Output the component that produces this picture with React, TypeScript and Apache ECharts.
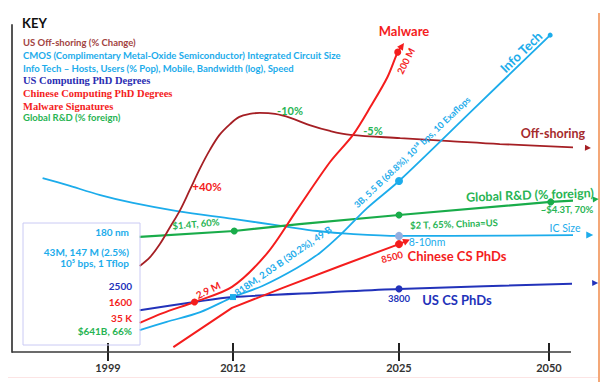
import React, { useEffect, useRef } from "react";
import * as echarts from "echarts";

// ---- axis (schematic, non-linear time axis) ----
const YEAR_TICKS = [1999, 2012, 2025, 2050];
const TICK_POS = [17.17, 39.53, 69.23, 96.06]; // layout position of each year tick (0-100 along axis)

// ---- series data: [year, relative level 0-100] ----
const offshoringYears = [2002.3, 2003.4, 2004.4, 2005.4, 2006.5, 2007.5, 2008.6, 2009.6, 2010.6, 2011.7, 2012.5, 2013.3, 2014.1, 2015.3, 2016.5, 2018.0, 2019.6, 2021.2, 2025.2, 2033.5, 2041.8, 2056.5];
const offshoringValues = [26.3, 29.1, 33.0, 37.9, 43.4, 49.5, 56.3, 61.8, 66.4, 69.7, 71.9, 72.8, 73.1, 72.8, 71.6, 69.4, 67.6, 66.4, 65.4, 64.5, 63.6, 62.4];

const icYears = [1992.2, 1994.7, 1998.2, 2001.6, 2006.2, 2012.0, 2015.9, 2018.6, 2021.2, 2025.0, 2033.5, 2056.8];
const icValues = [53.2, 51.1, 48.0, 45.6, 43.1, 40.7, 38.5, 37.0, 36.1, 35.5, 35.5, 35.8];

const infoYears = [2002.3, 2005.1, 2008.6, 2012.0, 2014.3, 2017.0, 2018.8, 2020.4, 2022.5, 2025.0, 2037.6, 2050.2];
const infoValues = [6.7, 9.2, 12.2, 16.8, 20.2, 25.7, 30.3, 35.8, 44.0, 52.3, 74.6, 96.9];

const usYears = [2002.3, 2008.0, 2012.0, 2019.6, 2025.0, 2057.7];
const usValues = [12.8, 15.3, 16.8, 18.3, 19.3, 21.1];

const cnYears = [2005.8, 2011.9, 2015.9, 2020.4, 2025.0, 2026.3];
const cnValues = [1.5, 13.5, 19.6, 26.3, 33.0, 34.0];

const malwareYears = [2002.3, 2004.7, 2008.0, 2011.9, 2014.7, 2017.0, 2019.6, 2021.4, 2022.8, 2024.1, 2024.9, 2025.5];
const malwareValues = [8.9, 11.9, 15.3, 19.9, 30.3, 43.4, 58.1, 66.4, 75.2, 84.1, 91.7, 93.6];

const rdYears = [2002.3, 2012.1, 2017.2, 2025.0, 2050.3, 2057.8];
const rdValues = [35.2, 37.0, 39.1, 41.9, 45.9, 46.7];

// ---- colours ----
const C_OFF = "#A51F24";
const C_LBLUE = "#1CACEB";
const C_DBLUE = "#2232BA";
const C_RED = "#F41D1D";
const C_GREEN = "#19AC4A";
const C_GREEN_T = "#27B453";

const FONT = 'Lato, "Liberation Sans", sans-serif';
const SERIF = '"Liberation Serif", "DejaVu Serif", serif';

function yearToPos(y: number): number {
  let i = 0;
  if (y > YEAR_TICKS[1]) i = 1;
  if (y > YEAR_TICKS[2]) i = 2;
  const t = (y - YEAR_TICKS[i]) / (YEAR_TICKS[i + 1] - YEAR_TICKS[i]);
  return TICK_POS[i] + t * (TICK_POS[i + 1] - TICK_POS[i]);
}

type Marker = { symbol: string; size: number; rotate?: number; color?: string };

function build(years: number[], values: number[], markers: Record<number, Marker>) {
  return years.map((yr, i) => {
    const m = markers[i];
    const item: any = { value: [yearToPos(yr), values[i]] };
    if (m) {
      item.symbol = m.symbol;
      item.symbolSize = m.size;
      item.symbolRotate = m.rotate ?? 0;
      if (m.color) item.itemStyle = { color: m.color };
    } else {
      item.symbol = "none";
    }
    return item;
  });
}

function lineSeries(name: string, color: string, width: number, data: any[], smooth: number | boolean, extra: any = {}) {
  return {
    name,
    type: "line",
    data,
    smooth,
    clip: false,
    showSymbol: true,
    symbol: "circle",
    lineStyle: { color, width },
    itemStyle: { color },
    emphasis: { disabled: true },
    z: 3,
    ...extra,
  };
}

function txt(text: string, x: number, y: number, fill: string, size: number, opts: any = {}) {
  return {
    type: "text",
    x,
    y,
    rotation: ((opts.rot || 0) * Math.PI) / 180,
    z: 100,
    silent: true,
    style: {
      text,
      fill,
      fontSize: size,
      fontWeight: opts.weight || "bold",
      fontFamily: opts.family || FONT,
      align: opts.align || "center",
      verticalAlign: "middle",
    },
  };
}

export default function App() {
  const ref = useRef<HTMLDivElement>(null);
  useEffect(() => {
    if (!ref.current) return;
    const chart = echarts.init(ref.current, undefined, { renderer: "svg" });
    const option: any = {
      animation: false,
      grid: { left: 12, right: 31, top: 25, bottom: 30 },
      xAxis: {
        type: "value",
        min: 0,
        max: 100,
        offset: -9,
        axisLine: { show: false },
        axisTick: { show: true, customValues: TICK_POS, length: 18, lineStyle: { color: "#222", width: 2 } },
        axisLabel: {
          customValues: TICK_POS,
          margin: 19,
          fontSize: 11,
          fontWeight: "bold",
          fontFamily: FONT,
          color: "#333",
          formatter: (v: number) => {
            let best = 0;
            TICK_POS.forEach((p, i) => {
              if (Math.abs(p - v) < Math.abs(TICK_POS[best] - v)) best = i;
            });
            return String(YEAR_TICKS[best]);
          },
        },
        splitLine: { show: false },
      },
      yAxis: {
        type: "value",
        min: 0,
        max: 100,
        axisLine: { show: true, lineStyle: { color: "#555", width: 2 } },
        axisTick: { show: false },
        axisLabel: { show: false },
        splitLine: { show: false },
      },
      series: [
        lineSeries("IC Size", C_LBLUE, 1.8, build(icYears, icValues, {
          9: { symbol: "circle", size: 8, color: "#93AEE0" },
          11: { symbol: "triangle", size: 7, rotate: -90 },
        }), 0.35),
        lineSeries("Global R&D", C_GREEN, 2.2, build(rdYears, rdValues, {
          1: { symbol: "circle", size: 7 },
          3: { symbol: "circle", size: 7 },
          4: { symbol: "circle", size: 7 },
          5: { symbol: "triangle", size: 6, rotate: -86 },
        }), false),
        lineSeries("Off-shoring", C_OFF, 1.8, build(offshoringYears, offshoringValues, {
          21: { symbol: "triangle", size: 6, rotate: -92 },
        }), 0.35, {
          markLine: {
            silent: true,
            symbol: "none",
            label: { show: false },
            lineStyle: { color: "#3a3a3a", width: 1.6, type: "solid" },
            data: [{ yAxis: 0 }],
          },
        }),
        lineSeries("Info Tech", C_LBLUE, 1.8, build(infoYears, infoValues, {
          3: { symbol: "rect", size: 6 },
          9: { symbol: "circle", size: 8 },
          11: { symbol: "circle", size: 5 },
        }), 0.3),
        lineSeries("US CS PhDs", C_DBLUE, 2, build(usYears, usValues, {
          4: { symbol: "circle", size: 7 },
          5: { symbol: "triangle", size: 6, rotate: -88 },
        }), 0.3),
        lineSeries("Chinese CS PhDs", C_RED, 2, build(cnYears, cnValues, {
          4: { symbol: "circle", size: 8 },
          5: { symbol: "triangle", size: 7, rotate: -66 },
        }), false),
        lineSeries("Malware", C_RED, 2, build(malwareYears, malwareValues, {
          2: { symbol: "circle", size: 7 },
          10: { symbol: "circle", size: 7 },
          11: { symbol: "triangle", size: 7, rotate: -35 },
        }), 0.3),
      ],
      graphic: [
        // frame decorations
        { type: "line", shape: { x1: 599, y1: 13, x2: 599, y2: 382 }, style: { stroke: "#F4A878", lineWidth: 2 }, silent: true },
        { type: "line", shape: { x1: 8, y1: 377.5, x2: 598, y2: 377.5 }, style: { stroke: "#FCE4E4", lineWidth: 1 }, silent: true },
        // key
        txt("KEY", 22, 23, "#111", 13, { align: "left" }),
        txt("US Off-shoring (% Change)", 23, 42, "#A2443F", 9.5, { align: "left" }),
        txt("CMOS (Complimentary Metal-Oxide Semiconductor) Integrated Circuit Size", 23, 55, C_LBLUE, 9.5, { align: "left" }),
        txt("Info Tech – Hosts, Users (% Pop), Mobile, Bandwidth (log), Speed", 23, 68, C_LBLUE, 9.5, { align: "left" }),
        txt("US Computing PhD Degrees", 23, 80, "#2A2DB2", 10.5, { align: "left", family: SERIF }),
        txt("Chinese Computing PhD Degrees", 23, 93, C_RED, 10.5, { align: "left", family: SERIF }),
        txt("Malware Signatures", 23, 106, C_RED, 10.5, { align: "left", family: SERIF }),
        txt("Global R&D (% foreign)", 23, 117, C_GREEN_T, 9.5, { align: "left" }),
        // start-values box
        { type: "rect", shape: { x: 23, y: 223, width: 117, height: 122 }, style: { fill: "none", stroke: "#CACAF4", lineWidth: 1 }, silent: true, z: 90 },
        txt("180 nm", 129, 232, C_LBLUE, 10, { align: "right" }),
        txt("43M, 147 M (2.5%)", 129, 252, C_LBLUE, 10, { align: "right" }),
        txt("10⁵ bps, 1 Tflop", 129, 263, C_LBLUE, 10, { align: "right" }),
        txt("2500", 132, 286, C_DBLUE, 10, { align: "right" }),
        txt("1600", 132, 302, C_RED, 10, { align: "right" }),
        txt("35 K", 132, 318, C_RED, 10, { align: "right" }),
        txt("$641B, 66%", 132, 331, C_GREEN_T, 10, { align: "right" }),
        // annotations
        txt("Malware", 404, 31, C_RED, 13),
        txt("200 M", 406, 61, C_RED, 9.5, { rot: 63 }),
        txt("Info Tech", 521, 52, C_LBLUE, 13, { rot: 44 }),
        txt("3B, 5.5 B (68.8%), 10¹⁸ bps, 10 Exaflops", 412, 152, C_LBLUE, 9, { rot: 43.6 }),
        txt("818M, 2.03 B (30.2%), 49 B", 283, 261, C_LBLUE, 9.5, { rot: 34.5 }),
        txt("2.9 M", 208, 290, C_RED, 10, { rot: 26 }),
        txt("+40%", 207, 186, C_RED, 11.5),
        txt("-10%", 290, 110, C_GREEN_T, 11),
        txt("-5%", 373, 130, C_GREEN_T, 11),
        txt("Off-shoring", 553, 133, "#A52B2D", 12.5),
        txt("Global R&D (% foreign)", 530, 195, C_GREEN_T, 12.5, { rot: 2 }),
        txt("$1.4T, 60%", 196, 224, C_GREEN_T, 9.5, { rot: 5 }),
        txt("$2 T, 65%, China=US", 454, 224, C_GREEN_T, 9.5, { rot: 2 }),
        txt("~$4.3T, 70%", 567, 209, C_GREEN_T, 9.5),
        txt("IC Size", 565, 228, C_LBLUE, 10.5, { weight: "normal" }),
        txt("8-10nm", 427, 242, C_LBLUE, 10.5, { weight: "normal" }),
        txt("8500", 392, 257, C_RED, 9.5, { rot: 15 }),
        txt("Chinese CS PhDs", 457, 256, C_RED, 13),
        txt("3800", 399, 298, C_DBLUE, 9.5),
        txt("US CS PhDs", 457, 300, C_DBLUE, 13),
      ],
    };
    chart.setOption(option);
    return () => chart.dispose();
  }, []);
  return (
    <div
      ref={ref}
      style={{ position: "fixed", left: 0, top: 0, width: 602, height: 382, background: "#fff" }}
    />
  );
}
